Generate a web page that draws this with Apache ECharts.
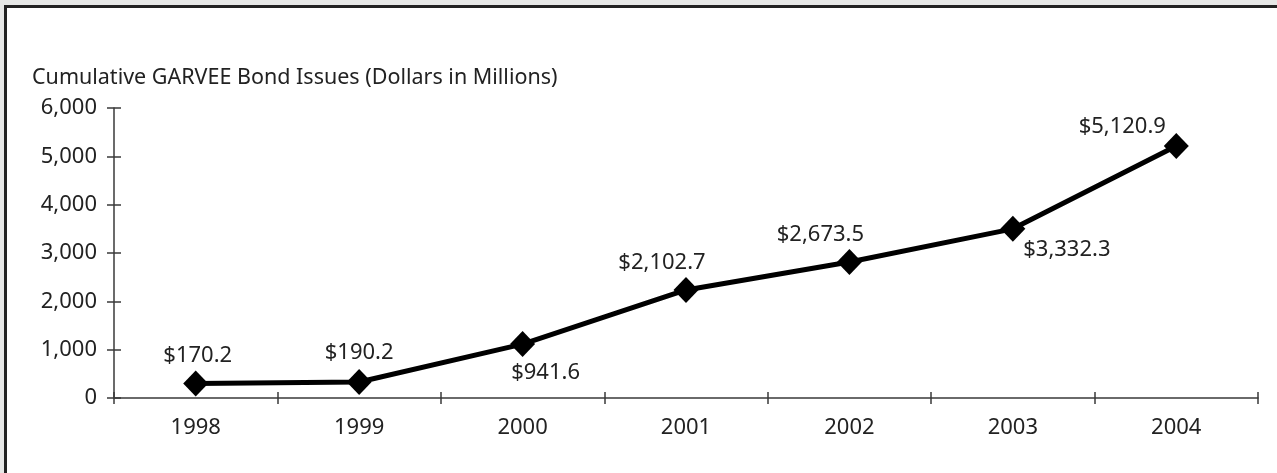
<!DOCTYPE html>
<html>
<head>
<meta charset="utf-8">
<script src="https://cdn.jsdelivr.net/npm/echarts@6/dist/echarts.min.js"></script>
<style>
html,body{margin:0;padding:0;background:#e6e7e6;overflow:hidden;}
#frame{position:absolute;left:4px;top:5px;width:1300px;height:500px;background:#fff;border-left:3px solid #222;border-top:3px solid #222;}
#main{position:absolute;left:0;top:0;width:1277px;height:473px;}
</style>
</head>
<body>
<div id="frame"></div>
<div id="main"></div>
<script>
// 年份
var years = ['1998', '1999', '2000', '2001', '2002', '2003', '2004'];
// 图中点的高度（按坐标读出）
var plotValues = [300, 330, 1115, 2235, 2815, 3500, 5215];
// 标注文字
var valueLabels = ['$170.2', '$190.2', '$941.6', '$2,102.7', '$2,673.5', '$3,332.3', '$5,120.9'];
// 标注相对点的偏移
var labelOffsets = [[2, -28], [0, -29], [23, 29], [-24, -27], [-29, -27], [54, 21], [-54, -19]];

var font = 'Noto Sans';
var axisColor = '#3a3a3a';

var seriesData = new Array();
for (var i = 0; i < years.length; i++) {
	seriesData.push({
		value: plotValues[i],
		label: {
			formatter: valueLabels[i],
			offset: labelOffsets[i]
		}
	});
}

var myChart = echarts.init(document.getElementById('main'));
var option = {
	animation: false,
	title: {
		text: 'Cumulative GARVEE Bond Issues (Dollars in Millions)',
		left: 27,
		top: 62,
		textStyle: {fontFamily: font, fontSize: 21.5, fontWeight: 'normal', color: '#222'}
	},
	grid: {left: 114, right: 19, top: 108, bottom: 75},
	xAxis: [
		{
			type: 'category',
			data: years,
			boundaryGap: true,
			axisLine: {lineStyle: {color: axisColor, width: 1.5}},
			axisTick: {show: true, inside: false, length: 6, lineStyle: {color: axisColor, width: 1.5}},
			axisLabel: {margin: 19, fontFamily: font, fontSize: 22, color: '#222'}
		},
		{
			type: 'category',
			data: years,
			position: 'bottom',
			boundaryGap: true,
			axisLine: {show: false},
			axisTick: {show: true, inside: true, length: 6, lineStyle: {color: axisColor, width: 1.5}},
			axisLabel: {show: false}
		}
	],
	yAxis: [
		{
			type: 'value',
			min: 0,
			max: 6000,
			interval: 1000,
			splitLine: {show: false},
			axisLine: {show: true, lineStyle: {color: axisColor, width: 1.5}},
			axisTick: {show: true, inside: false, length: 7, lineStyle: {color: axisColor, width: 1.5}},
			axisLabel: {
				margin: 17,
				fontFamily: font,
				fontSize: 22,
				color: '#222',
				formatter: function(v){ return v.toLocaleString('en-US'); }
			}
		},
		{
			type: 'value',
			position: 'left',
			min: 0,
			max: 6000,
			interval: 1000,
			splitLine: {show: false},
			axisLine: {show: false},
			axisTick: {show: true, inside: true, length: 7, lineStyle: {color: axisColor, width: 1.5}},
			axisLabel: {show: false}
		}
	],
	series: [
		{
			name: 'GARVEE',
			type: 'line',
			data: seriesData,
			symbol: 'diamond',
			symbolSize: [25, 26],
			itemStyle: {color: '#000'},
			lineStyle: {color: '#000', width: 5},
			label: {
				show: true,
				position: 'inside',
				fontFamily: font,
				fontSize: 22,
				color: '#222'
			}
		}
	]
};
myChart.setOption(option);
</script>
</body>
</html>
